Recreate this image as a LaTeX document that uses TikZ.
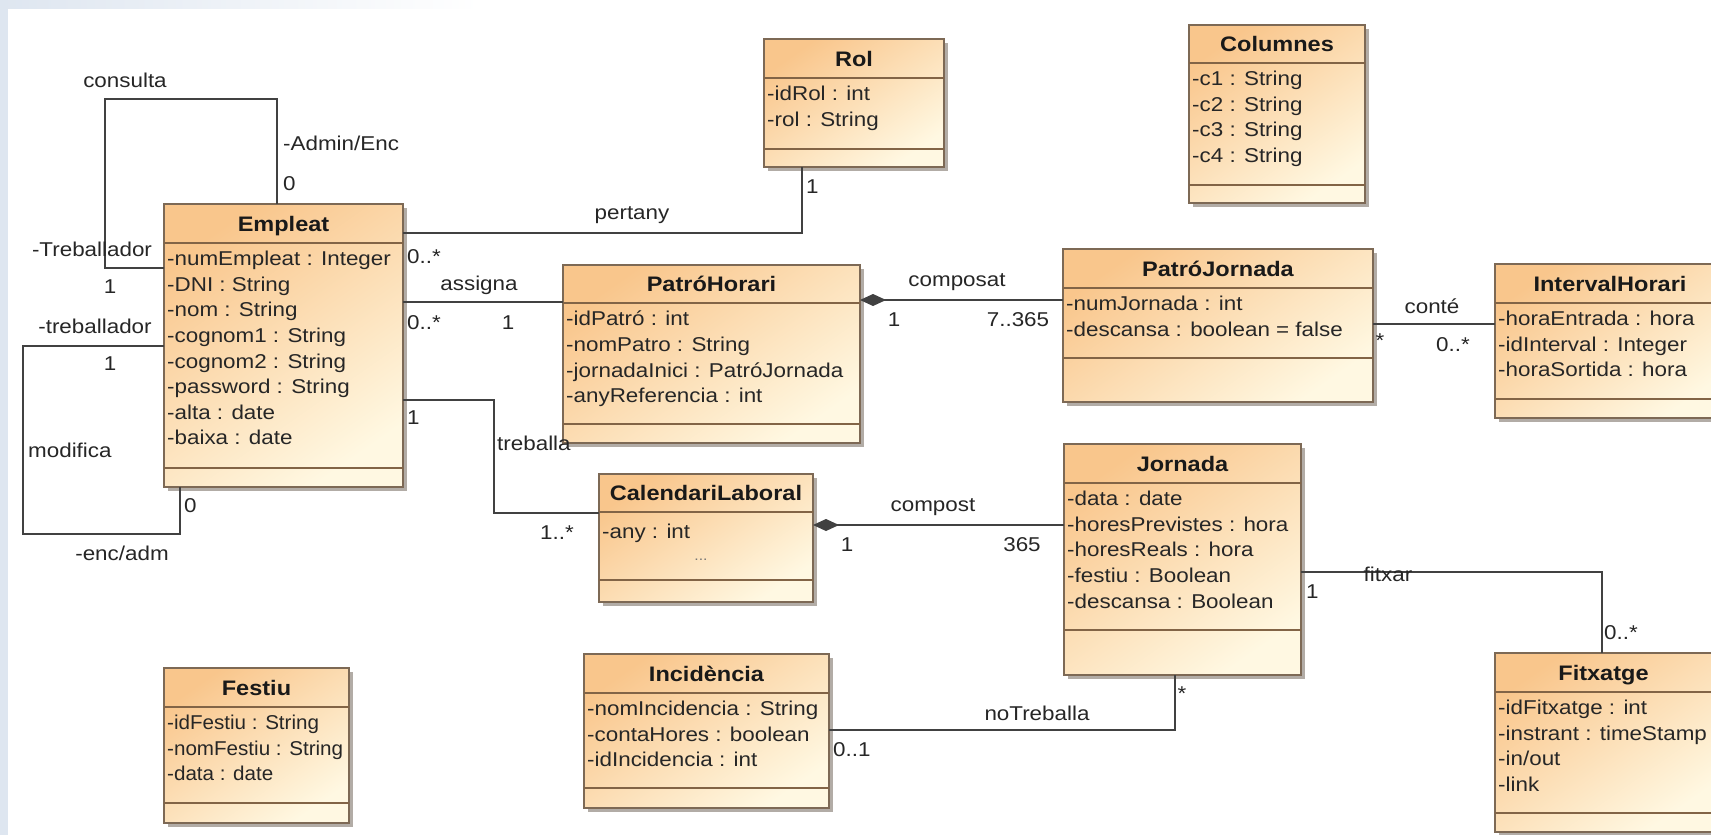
\documentclass[tikz,border=0pt]{standalone}
\usepackage{fontspec}
\setmainfont{Liberation Sans}[FakeStretch=1.12]
\newfontfamily\condensedfont{Liberation Sans}[FakeStretch=1.03]
\usetikzlibrary{arrows.meta,fit,calc}

\definecolor{boxA}{RGB}{249,198,140}
\definecolor{boxB}{RGB}{255,248,226}
\definecolor{boxborder}{RGB}{125,105,85}
\definecolor{sepc}{RGB}{130,100,70}
\definecolor{shadowc}{RGB}{178,172,166}
\definecolor{connc}{RGB}{65,65,65}
\definecolor{bgblue}{RGB}{222,230,240}

\tikzset{
  boxshade/.style={top color=boxA, bottom color=boxB, shading angle=35},
  boxedge/.style={draw=boxborder, line width=1.3pt},
  sepline/.style={draw=sepc, line width=1.2pt},
  classtitle/.style={anchor=base, inner sep=0pt, font=\fontsize{21}{24}\selectfont\bfseries, text=black!90},
  classattr/.style={anchor=north west, inner sep=0pt, align=left, font=\fontsize{20}{25.6}\selectfont, text=black!85, execute at begin node=\strut},
  lbl/.style={inner sep=0pt, font=\fontsize{20}{24}\selectfont, text=black!85},
  conn/.style={draw=connc, line width=1.4pt},
  compo/.style={{Diamond[length=26pt,width=12pt,fill=connc]}-},
  boxfit/.style={inner sep=0pt, outer sep=0pt}
}

% #1 name, #2 x1, #3 y1, #4 x2, #5 y2, #6 header sep, #7 attr sep, #8 title, #9 attrs
\newcommand{\umlbox}[9]{%
  \fill[shadowc] (#2+4,#3+4) rectangle (#4+4,#5+4);
  \shade[boxshade] (#2,#3) rectangle (#4,#5);
  \draw[boxedge] (#2,#3) rectangle (#4,#5);
  \draw[sepline] (#2,#6) -- (#4,#6) (#2,#7) -- (#4,#7);
  \node[classtitle] (#1-title) at ({(#2+#4)/2},#6-11.5) {#8};
  \node[classattr] (#1-attrs) at (#2+3,#6+8) {#9};
  \coordinate (#1-nw) at (#2,#3);
  \coordinate (#1-se) at (#4,#5);
  \node[boxfit, fit=(#1-nw)(#1-se)] (#1) {};
}

\begin{document}
\begin{tikzpicture}[x=1pt,y=-1pt]
\useasboundingbox (0,0) rectangle (1711,835);
\fill[white] (0,0) rectangle (1711,835);
\clip (0,0) rectangle (1711,835);
\fill[bgblue] (0,0) rectangle (8,835);
\shade[left color=bgblue, right color=white] (0,0) rectangle (480,8);

% classes
\umlbox{emp}{164}{204}{403}{487}{243}{468}{Empleat}{-numEmpleat : Integer\\-DNI : String\\-nom : String\\-cognom1 : String\\-cognom2 : String\\-password : String\\-alta : date\\-baixa : date}
\umlbox{rol}{764}{39}{944}{167}{78}{149}{Rol}{-idRol : int\\-rol : String}
\umlbox{col}{1189}{25}{1365}{203}{63}{185}{Columnes}{-c1 : String\\-c2 : String\\-c3 : String\\-c4 : String}
\umlbox{ph}{563}{265}{860}{443}{303}{424}{PatróHorari}{-idPatró : int\\-nomPatro : String\\-jornadaInici : PatróJornada\\-anyReferencia : int}
\umlbox{pj}{1063}{249}{1373}{402}{288}{358}{PatróJornada}{-numJornada : int\\-descansa : boolean = false}
\umlbox{ih}{1495}{264}{1725}{418}{303}{399}{IntervalHorari}{-horaEntrada : hora\\-idInterval : Integer\\-horaSortida : hora}
\umlbox{cal}{599}{474}{813}{602}{512}{580}{CalendariLaboral}{-any : int}
\node[lbl, text=black!55, font=\fontsize{14}{16}\selectfont] (caldots) at (701,560) {...};
\umlbox{jor}{1064}{444}{1301}{675}{483}{630}{Jornada}{-data : date\\-horesPrevistes : hora\\-horesReals : hora\\-festiu : Boolean\\-descansa : Boolean}
\umlbox{inc}{584}{654}{829}{808}{693}{788}{Incidència}{-nomIncidencia : String\\-contaHores : boolean\\-idIncidencia : int}
\umlbox{fes}{164}{668}{349}{823}{707}{803}{Festiu}{\condensedfont -idFestiu : String\\\condensedfont -nomFestiu : String\\\condensedfont -data : date}
\umlbox{fit}{1495}{653}{1712}{832}{692}{813}{Fitxatge}{-idFitxatge : int\\-instrant : timeStamp\\-in/out\\-link}

% bend coordinates
\coordinate (cq) at (105,99);
\coordinate (mq) at (23,534);
\coordinate (tq) at (494,400);

% connectors
\draw[conn] ([xshift=113pt]emp.north west) |- (cq) |- (emp.west |- 0,268);
\draw[conn] (emp.west |- 0,346) -| (mq) -| ([xshift=16pt]emp.south west);
\draw[conn] (emp.east |- 0,233) -| ([xshift=38pt]rol.south west);
\draw[conn] (emp.east |- 0,302) -- (ph.west |- 0,302);
\draw[conn] (emp.east |- 0,400) -- (tq) |- (cal.west |- 0,513);
\draw[conn, compo] (ph.east |- 0,300) -- (pj.west |- 0,300);
\draw[conn, compo] (cal.east |- 0,525) -- (jor.west |- 0,525);
\draw[conn] (pj.east |- 0,324) -- (ih.west |- 0,324);
\draw[conn] (jor.east |- 0,572) -| ([xshift=107pt]fit.north west);
\draw[conn] (inc.east |- 0,730) -| ([xshift=111pt]jor.south west);

% labels
\node[lbl] (l1) at (125,80) {consulta};
\node[lbl, anchor=west] (l2) at (283,143) {-Admin/Enc};
\node[lbl, anchor=west] (l3) at (283,184) {0};
\node[lbl] (l4) at (92,249) {-Treballador};
\node[lbl] (l5) at (110,287) {1};
\node[lbl] (l6) at (95,326) {-treballador};
\node[lbl] (l7) at (110,364) {1};
\node[lbl, anchor=west] (l8) at (28,450) {modifica};
\node[lbl, anchor=west] (l9) at (184,506) {0};
\node[lbl] (l10) at (122,553) {-enc/adm};
\node[lbl, anchor=west] (l11) at (407,257) {0..*};
\node[lbl] (l12) at (632,215) {pertany};
\node[lbl, anchor=west] (l13) at (806,187) {1};
\node[lbl] (l14) at (479,285) {assigna};
\node[lbl, anchor=west] (l15) at (407,323) {0..*};
\node[lbl] (l16) at (508,323) {1};
\node[lbl, anchor=west] (l17) at (407,418) {1};
\node[lbl, anchor=west] (l18) at (497,443) {treballa};
\node[lbl] (l19) at (557,533) {1..*};
\node[lbl] (l20) at (957,282) {composat};
\node[lbl] (l21) at (894,320) {1};
\node[lbl] (l22) at (1018,320) {7..365};
\node[lbl] (l23) at (933,507) {compost};
\node[lbl] (l24) at (847,545) {1};
\node[lbl] (l25) at (1022,545) {365};
\node[lbl] (l26) at (1432,306) {conté};
\node[lbl] (l27) at (1380,341) {*};
\node[lbl] (l28) at (1453,345) {0..*};
\node[lbl] (l29) at (1388,574) {fitxar};
\node[lbl, anchor=west] (l30) at (1306,592) {1};
\node[lbl, anchor=west] (l31) at (1604,633) {0..*};
\node[lbl] (l32) at (1037,713) {noTreballa};
\node[lbl] (l33) at (1182,694) {*};
\node[lbl, anchor=west] (l34) at (833,750) {0..1};
\end{tikzpicture}
\end{document}
